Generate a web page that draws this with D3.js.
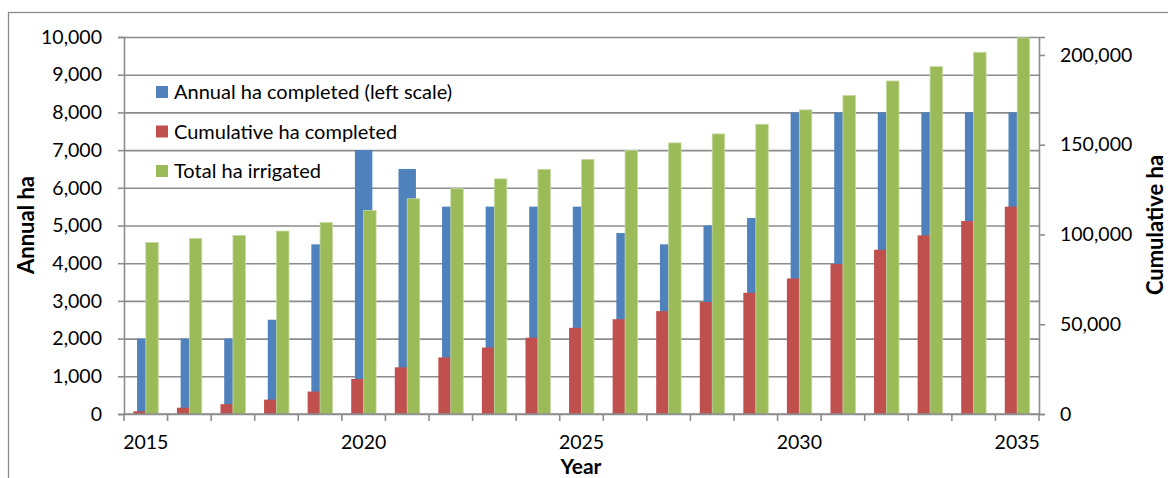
<!DOCTYPE html>
<html>
<head>
<meta charset="utf-8">
<script src="https://cdn.jsdelivr.net/npm/d3@7"></script>
<style>
  body { margin: 0; background: #fff; }
  svg { display: block; font-family: Lato, "Open Sans", sans-serif; }
</style>
</head>
<body>
<svg id="chart" width="1168" height="478"></svg>
<script>
// data
const years = d3.range(2015, 2036);
const annualHa = [2000, 2000, 2000, 2500, 4500, 7000, 6500, 5500, 5500, 5500, 5500,
                  4800, 4500, 5000, 5200, 8000, 8000, 8000, 8000, 8000, 8000];
const cumulativeHa = [1500, 3500, 5500, 8000, 12500, 19500, 26000, 31500, 37000, 42500, 48000,
                      52800, 57300, 62400, 67500, 75500, 83500, 91500, 99500, 107500, 115500];
const totalIrrigated = [95500, 97700, 99500, 101900, 106600, 113400, 119900, 125500, 131000, 136200, 141800,
                        146800, 151000, 156000, 161400, 169400, 177400, 185500, 193500, 201500, 209500];
const leftTicks = d3.range(0, 10001, 1000);
const rightTicks = [0, 50000, 100000, 150000, 200000];
const xLabels = [2015, 2020, 2025, 2030, 2035];
const legendItems = [
  { label: "Annual ha completed (left scale)", color: "#4F81BD" },
  { label: "Cumulative ha completed", color: "#C0504D" },
  { label: "Total ha irrigated", color: "#9BBB59" }
];

const svg = d3.select("#chart");
const plotLeft = 124, plotRight = 1039, plotTop = 37, plotBottom = 414;
const gridColor = "#8c8c8c";

// outer chart frame
svg.append("rect")
  .attr("x", 8.5).attr("y", 12.5)
  .attr("width", 1300).attr("height", 600)
  .attr("fill", "none")
  .attr("stroke", "#8a8a8a")
  .attr("stroke-width", 1.3);

const x = d3.scaleBand()
  .domain(years)
  .range([plotLeft, plotRight])
  .padding(0);

const yLeft = d3.scaleLinear()
  .domain([0, 10000])
  .range([plotBottom, plotTop]);

const yRight = d3.scaleLinear()
  .domain([0, 210000])
  .range([plotBottom, plotTop]);

const bw = x.bandwidth();
const wPrimary = bw / 2.5;   // single series, 150% gap
const wSecondary = bw / 3.5; // two series, 150% gap

// horizontal grid lines (left scale)
const yGrid = d3.axisLeft(yLeft)
  .tickValues(leftTicks)
  .tickSize(-(plotRight - plotLeft))
  .tickFormat('');

svg.append("g")
  .attr("class", "y-grid")
  .attr("transform", `translate(${plotLeft},0)`)
  .call(yGrid)
  .call(g => g.select(".domain").remove())
  .call(g => g.selectAll("line").attr("stroke", gridColor).attr("stroke-width", 1.6));

// blue bars on the primary axis
svg.append("g").selectAll("rect")
  .data(years)
  .enter().append("rect")
  .attr("x", d => x(d) + bw / 2 - wPrimary / 2)
  .attr("y", (d, i) => yLeft(annualHa[i]))
  .attr("width", wPrimary)
  .attr("height", (d, i) => plotBottom - yLeft(annualHa[i]))
  .attr("fill", "#4F81BD");

// red + green bars on the secondary axis
svg.append("g").selectAll("rect")
  .data(years)
  .enter().append("rect")
  .attr("x", d => x(d) + bw / 2 - wSecondary)
  .attr("y", (d, i) => yRight(cumulativeHa[i]))
  .attr("width", wSecondary)
  .attr("height", (d, i) => plotBottom - yRight(cumulativeHa[i]))
  .attr("fill", "#C0504D");

svg.append("g").selectAll("rect")
  .data(years)
  .enter().append("rect")
  .attr("x", d => x(d) + bw / 2)
  .attr("y", (d, i) => yRight(totalIrrigated[i]))
  .attr("width", wSecondary)
  .attr("height", (d, i) => plotBottom - yRight(totalIrrigated[i]))
  .attr("fill", "#9BBB59")
  .attr("stroke", "#c4d99e")
  .attr("stroke-width", 0.8);

// left axis
const yAxisLeft = d3.axisLeft(yLeft)
  .tickValues(leftTicks)
  .tickSize(6)
  .tickPadding(16)
  .tickFormat(d3.format(","));

svg.append("g")
  .attr("transform", `translate(${plotLeft},0)`)
  .call(yAxisLeft)
  .call(g => g.select(".domain").attr("stroke", gridColor).attr("stroke-width", 1.6))
  .call(g => g.selectAll("line").attr("stroke", gridColor).attr("stroke-width", 1.6))
  .call(g => g.selectAll("text").attr("font-size", 19.5).attr("fill", "#000"))
  .attr("font-family", null);

// right axis
const yAxisRight = d3.axisRight(yRight)
  .tickValues(rightTicks)
  .tickSize(6)
  .tickPadding(15)
  .tickFormat(d3.format(","));

svg.append("g")
  .attr("transform", `translate(${plotRight},0)`)
  .call(yAxisRight)
  .call(g => g.select(".domain").attr("stroke", gridColor).attr("stroke-width", 1.6))
  .call(g => g.selectAll("line").attr("stroke", gridColor).attr("stroke-width", 1.6))
  .call(g => g.selectAll("text").attr("font-size", 19.5).attr("fill", "#000"))
  .attr("font-family", null);

// x axis: ticks between categories, labels every 5 years
const xAxis = svg.append("g")
  .attr("transform", `translate(0,${plotBottom})`);

xAxis.append("line")
  .attr("x1", plotLeft).attr("x2", plotRight)
  .attr("stroke", gridColor).attr("stroke-width", 1.6);

xAxis.selectAll(".xtick")
  .data(years.concat([2036]))
  .enter().append("line")
  .attr("class", "xtick")
  .attr("x1", d => d === 2036 ? plotRight : x(d))
  .attr("x2", d => d === 2036 ? plotRight : x(d))
  .attr("y1", 0).attr("y2", 7)
  .attr("stroke", gridColor).attr("stroke-width", 1.6);

xAxis.selectAll(".xlabel")
  .data(xLabels)
  .enter().append("text")
  .attr("class", "xlabel")
  .attr("x", d => x(d) + bw / 2)
  .attr("y", 35)
  .attr("text-anchor", "middle")
  .attr("font-size", 19.5)
  .text(d => d);

// axis titles
svg.append("text")
  .attr("transform", "translate(34,225) rotate(-90)")
  .attr("text-anchor", "middle")
  .attr("font-size", 22)
  .attr("font-weight", "bold")
  .text("Annual ha");

svg.append("text")
  .attr("transform", "translate(1163,225) rotate(-90)")
  .attr("text-anchor", "middle")
  .attr("font-size", 22)
  .attr("font-weight", "bold")
  .text("Cumulative ha");

svg.append("text")
  .attr("x", 581)
  .attr("y", 474)
  .attr("text-anchor", "middle")
  .attr("font-size", 21)
  .attr("font-weight", "bold")
  .text("Year");

// legend
const legend = svg.append("g");
legendItems.forEach((item, i) => {
  const cy = 92 + i * 39.5;
  legend.append("rect")
    .attr("x", 156).attr("y", cy - 6)
    .attr("width", 12).attr("height", 12)
    .attr("fill", item.color);
  legend.append("text")
    .attr("x", 174).attr("y", cy + 7)
    .attr("font-size", 20)
    .text(item.label);
});
</script>
</body>
</html>
